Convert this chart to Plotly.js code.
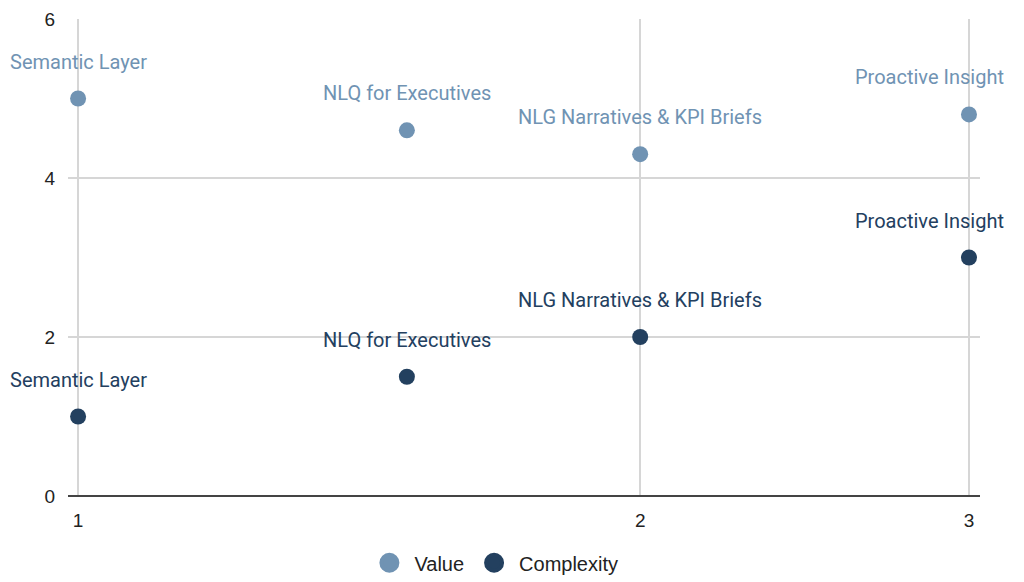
<!DOCTYPE html>
<html><head><meta charset="utf-8">
<script src="https://cdn.plot.ly/plotly-3.0.1.min.js"></script>
<style>html,body{margin:0;padding:0;background:#fff}#chart{width:1024px;height:582px}</style>
</head><body><div id="chart"></div>
<script>
const labels = ["Semantic Layer", "NLQ for Executives", "NLG Narratives & KPI Briefs", "Proactive Insight"];
const xVals = [1, 1.5, 2, 3];
const valueScores = [5.0, 4.6, 4.3, 4.8];
const complexityScores = [1.0, 1.5, 2.0, 3.0];
const seriesNames = ["Value", "Complexity"];
const xTicks = [1, 2, 3];
const yTicks = [0, 2, 4, 6];

const valueColor = "#7093b3";
const complexColor = "#23405f";
const colors = [valueColor, complexColor];

const traces = [
  {x: xVals, y: valueScores, name: seriesNames[0], type: "scatter", mode: "markers", showlegend: false,
   marker: {size: 16, color: valueColor}, hoverinfo: "text", text: labels},
  {x: xVals, y: complexityScores, name: seriesNames[1], type: "scatter", mode: "markers", showlegend: false,
   marker: {size: 16, color: complexColor}, hoverinfo: "text", text: labels}
];
// legend entries (no data) so the legend symbols can be drawn larger
seriesNames.forEach((n, i) => traces.push({
  x: [null], y: [null], name: n, type: "scatter", mode: "markers", showlegend: true,
  marker: {size: 16, color: colors[i], line: {width: 4, color: colors[i]}}, hoverinfo: "skip"
}));

const annotations = [];
function addLabels(ys, color) {
  labels.forEach((t, i) => {
    annotations.push({
      x: Math.log10(xVals[i]), y: ys[i], text: t, showarrow: false,
      xanchor: "center", yanchor: "middle", yshift: 37,
      xshift: i === labels.length - 1 ? -39 : 0,
      font: {family: "Roboto, sans-serif", size: 20, color: color}
    });
  });
}
addLabels(valueScores, valueColor);
addLabels(complexityScores, complexColor);

const layout = {
  width: 1024, height: 582,
  margin: {l: 68, r: 44, t: 19, b: 86},
  paper_bgcolor: "#fff", plot_bgcolor: "#fff",
  font: {family: "Liberation Sans, Arial, sans-serif", color: "#222"},
  showlegend: true,
  legend: {orientation: "h", x: 0.467, xanchor: "center", y: 0.033, yref: "container", yanchor: "middle",
           font: {size: 20, color: "#222", family: "Liberation Sans, Arial, sans-serif"},
           itemsizing: "trace", itemwidth: 40, tracegroupgap: 0},
  xaxis: {type: "log", range: [Math.log10(1) - 0.0054, Math.log10(3) + 0.0059],
          tickvals: xTicks, ticktext: xTicks.map(String), showgrid: true,
          gridcolor: "#d6d6d6", gridwidth: 1.5, zeroline: false, showline: false,
          ticks: "", tickfont: {size: 19, color: "#222"}, ticklabelstandoff: 11,
          automargin: false},
  yaxis: {range: [0, 6], tickvals: yTicks, ticktext: yTicks.map(String),
          showgrid: true, gridcolor: "#d6d6d6", gridwidth: 1.5,
          zeroline: true, zerolinecolor: "#444", zerolinewidth: 1.5,
          showline: false, ticks: "", tickfont: {size: 19, color: "#222"},
          ticklabelstandoff: 12, automargin: false},
  annotations: annotations
};
Plotly.newPlot("chart", traces, layout, {displayModeBar: false, staticPlot: true});
</script></body></html>
